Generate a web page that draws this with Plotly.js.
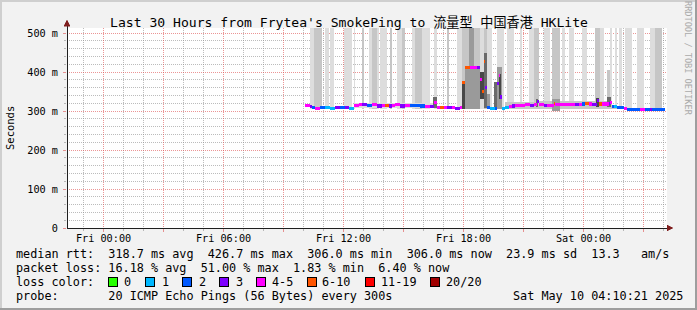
<!DOCTYPE html>
<html><head><meta charset="utf-8">
<script src="https://cdn.plot.ly/plotly-3.0.1.min.js"></script>
<style>html,body{margin:0;padding:0;background:#f2f2f2;overflow:hidden}
.main-svg path.xgrid, .main-svg path.ygrid, .main-svg path.xtick, .main-svg path.ytick,
.main-svg .barlayer path, .main-svg .layer-above path { shape-rendering: crispEdges; }
</style>
</head><body><div id="chart" style="width:697px;height:310px"></div>
<script>
// ---- data (times are minutes after Fri 2025-05-09 00:00) ----
const medStart = [605,620,625,635,650,665,680,695,710,725,735,750,765,775,790,805,820,835,845,855,865,875,890,905,920,950,965,980,990,1000,1010,1020,1030,1045,1055,1070,1075,1085,1100,1120,1130,1135,1140,1145,1150,1160,1175,1180,1185,1190,1195,1205,1215,1225,1235,1265,1280,1290,1300,1305,1320,1330,1350,1355,1415,1425,1435,1445,1455,1465,1480,1485,1495,1515,1520,1525,1530,1540,1560,1570,1610,1625,1640,1645];
const medValue = [315,311,309,307,309,308,307,309,308,308,307,315,316,316,314,316,313,315,315,313,315,316,313,314,314,313,312,312,322,310,308,309,308,308,307,308,374,412,412,412,380,351,427,360,308,306,307,371,392,336,306,308,312,313,314,316,315,316,325,316,315,314,320,316,316,317,318,320,318,317,328,318,318,320,322,312,311,309,306,305,305,305,305,305];
const medLoss  = [4,3,2,4,2,1,1,3,2,3,1,4,4,3,2,4,3,4,5,3,4,4,3,4,2,2,4,3,4,4,5,4,3,4,3,4,5,5,4,3,4,5,5,3,2,1,2,3,4,3,1,1,4,3,4,4,3,4,3,4,3,4,5,4,3,4,2,5,4,3,3,5,4,3,4,2,1,2,4,2,4,2,3,2];
const medEnd = 1685;

// tall smoke bands (pings spread up past the top of the graph)
const outerStart = [620,630,665,680,720,750,775,795,805,820,830,860,880,895,925,935,955,990,1030,1060,1075,1130,1140,1150,1180,1210,1250,1275,1290,1320,1345,1375,1395,1435,1475,1490,1510,1520,1535,1545,1565,1570,1600,1640,1655];
const outerEnd   = [630,655,675,690,745,755,780,805,820,825,850,865,895,905,935,955,980,1000,1035,1075,1130,1140,1150,1165,1200,1230,1255,1290,1305,1340,1370,1385,1410,1450,1490,1500,1520,1525,1540,1555,1570,1585,1620,1655,1675];
const outerHi    = [520,520,520,520,520,520,520,520,520,520,520,520,520,520,520,520,520,520,520,520,520,520,520,520,520,520,520,520,520,520,520,520,520,520,520,520,405,520,520,520,520,520,520,520,520];
const outerLevel = [1,2,1,1,1,1,2,1,2,1,1,2,1,2,1,2,1,1,2,1,2,1,2,1,1,1,1,1,2,1,2,1,1,1,2,1,2,1,1,1,1,1,1,1,2];
const outerLo = 305;

// dense smoke around the median
const innerStart = [750,988,1075,1085,1095,1130,1140,1150,1170,1180,1185,1205,1298,1305,1345,1478,1510,1525];
const innerEnd   = [990,1000,1085,1130,1110,1140,1150,1160,1180,1195,1192,1305,1303,1525,1370,1485,1522,1560];
const innerLo    = [308,308,306,306,412,330,308,306,306,306,330,306,310,304,300,310,310,304];
const innerHi    = [320,335,378,412,520,400,448,345,374,412,395,322,332,326,332,334,336,314];
const innerLevel = [1,4,5,3,3,5,4,3,4,3,5,2,4,2,3,5,4,2];

const lossLabels = ['0','1','2','3','4-5','6-10','11-19','20/20'];
const xTickLabels = ['Fri 00:00','','Fri 06:00','','Fri 12:00','','Fri 18:00','','Sat 00:00',''];
const xTickMinutes = [0,180,360,540,720,900,1080,1260,1440,1620];
const yTickValues = [0,100,200,300,400,500];
const yTickLabels = ['0','100 m','200 m','300 m','400 m','500 m'];
const legendLines = [
  'median rtt:  318.7 ms avg  426.7 ms max  306.0 ms min  306.0 ms now  23.9 ms sd  13.3   am/s',
  'packet loss: 16.18 % avg  51.00 % max  1.83 % min  6.40 % now',
  'loss color:',
  'probe:       20 ICMP Echo Pings (56 Bytes) every 300s'
];
const stampText = 'Sat May 10 04:10:21 2025';
const titleText = "Last 30 Hours from Frytea's SmokePing to 流量型 中国香港 HKLite";

// ---- styles ----
const lossColors = ['#26ff00','#00b8ff','#0059ff','#7e00ff','#ff00ff','#ff5500','#ff0000','#a10000'];
const levelColors = {1:'#dddddd',2:'#c6c6c6',3:'#9a9a9a',4:'#6a6a6a',5:'#474747'};
const MONO = 'DejaVu Sans Mono, Noto Sans CJK SC, monospace';

const T0 = Date.UTC(2025,4,9,0,0,0);
function tstr(min){ return new Date(T0+min*60000).toISOString().replace('T',' ').slice(0,19); }
function mid(a,b){ return tstr((a+b)/2); }

const traces = [];
traces.push({type:'bar', x: outerStart.map((s,i)=>mid(s,outerEnd[i])), width: outerStart.map((s,i)=>(outerEnd[i]-s)*60000),
  base: outerStart.map(()=>outerLo), y: outerHi.map(h=>h-outerLo),
  marker:{color: outerLevel.map(l=>levelColors[l]), line:{width:0}}, hoverinfo:'skip'});
traces.push({type:'bar', x: innerStart.map((s,i)=>mid(s,innerEnd[i])), width: innerStart.map((s,i)=>(innerEnd[i]-s)*60000),
  base: innerLo, y: innerHi.map((h,i)=>h-innerLo[i]),
  marker:{color: innerLevel.map(l=>levelColors[l]), line:{width:0}}, hoverinfo:'skip'});
const medE = medStart.slice(1).concat([medEnd]);
traces.push({type:'bar', x: medStart.map((s,i)=>mid(s,medE[i])), width: medStart.map((s,i)=>(medE[i]-s)*60000),
  base: medValue.map(v=>v-4), y: medValue.map(()=>8),
  marker:{color: medLoss.map(k=>lossColors[k]), line:{width:0}}, hoverinfo:'skip'});

// pixel helpers for layout decorations (plot area 67..667 x, 28..228 y)
const PX = px => (px-67)/600, PY = py => (228-py)/200;
const annotations = [];
function ann(text, px, py, size, extra){
  annotations.push(Object.assign({text: text.replace(/ /g,'\u00a0'), xref:'paper', yref:'paper', x:PX(px), y:PY(py),
    xanchor:'left', yanchor:'middle', showarrow:false, borderpad:0, borderwidth:0,
    font:{family:MONO, size:size, color:'#000'}}, extra||{}));
}
ann(titleText, 348.5, 22.5, 13.1, {xanchor:'center'});
ann('Seconds', 10, 128, 10.5, {xanchor:'center', textangle:-90});
ann('RRDTOOL / TOBI OETIKER', 688, 58, 8.6, {xanchor:'center', textangle:90, font:{family:MONO,size:8.6,color:'#aaaaaa'}});
const lineY = [254.3, 268.3, 282.3, 296];
legendLines.forEach((t,i)=>ann(t, 16, lineY[i], 11.8));
ann(stampText, 513, lineY[3], 11.8);

const shapes = [];
const boxX = [108,145.7,182.7,219.5,256.7,307,365.7,430.7];
const labX = [123.5,161.5,198.5,236.5,271.5,321.5,380.5,445.5];
lossLabels.forEach((l,i)=>{
  shapes.push({type:'rect', xref:'paper', yref:'paper', x0:PX(boxX[i]), x1:PX(boxX[i]+9), y0:PY(277), y1:PY(286.5),
    fillcolor: lossColors[i], line:{color:'#000', width:1}});
  ann(l, labX[i], lineY[2], 11.8);
});
// axis extensions and arrows
shapes.push({type:'line', xref:'paper', yref:'paper', x0:0, x1:PX(668), y0:0, y1:0, line:{color:'#1f1f1f', width:1}});
shapes.push({type:'line', xref:'paper', yref:'paper', x0:0, x1:0, y0:0, y1:PY(24), line:{color:'#1f1f1f', width:1}});
shapes.push({type:'path', xref:'paper', yref:'paper', xsizemode:'pixel', ysizemode:'pixel', xanchor:PX(667), yanchor:0,
  path:'M 0 -3 L 6 0 L 0 3 Z', fillcolor:'#801f1f', line:{color:'#801f1f', width:0.5}});
shapes.push({type:'path', xref:'paper', yref:'paper', xsizemode:'pixel', ysizemode:'pixel', xanchor:0, yanchor:PY(26),
  path:'M -3 0 L 0 6 L 3 0 Z', fillcolor:'#801f1f', line:{color:'#801f1f', width:0.5}});
// 3D frame
shapes.push({type:'rect', xref:'paper', yref:'paper', x0:PX(0), x1:PX(697), y0:PY(0), y1:PY(2), fillcolor:'#cfcfcf', line:{width:0}});
shapes.push({type:'rect', xref:'paper', yref:'paper', x0:PX(0), x1:PX(2), y0:PY(0), y1:PY(310), fillcolor:'#cfcfcf', line:{width:0}});
shapes.push({type:'rect', xref:'paper', yref:'paper', x0:PX(0), x1:PX(697), y0:PY(308), y1:PY(310), fillcolor:'#9e9e9e', line:{width:0}});
shapes.push({type:'rect', xref:'paper', yref:'paper', x0:PX(695), x1:PX(697), y0:PY(0), y1:PY(310), fillcolor:'#9e9e9e', line:{width:0}});

// minor grid positions: every hour / every 20 ms
const hourMinutes = []; for (let m=-60; m<=1740; m+=60) if (m%180!==0) hourMinutes.push(m);
const y20 = []; for (let v=20; v<=500; v+=20) if (v%100!==0) y20.push(v);

const GRID = 'rgba(143,143,143,0.6)', MGRID = 'rgba(222,79,79,0.6)';
const layout = {
  width:697, height:310, margin:{l:67, r:30, t:28, b:82},
  paper_bgcolor:'#f2f2f2', plot_bgcolor:'#ffffff', showlegend:false, barmode:'overlay',
  xaxis:{type:'date', range:[tstr(-109.65), tstr(1690.35)], tickmode:'array',
    tickvals: xTickMinutes.map(tstr), ticktext: xTickLabels,
    showgrid:true, gridcolor:MGRID, griddash:'1px,1px', gridwidth:1,
    ticks:'outside', ticklen:3, tickcolor:MGRID, ticklabelstandoff:-2,
    minor:{tickmode:'array', tickvals: hourMinutes.map(tstr), showgrid:true, gridcolor:GRID, griddash:'1px,1px', ticks:'outside', ticklen:2, tickcolor:GRID},
    showline:false, zeroline:false, fixedrange:true,
    tickfont:{family:MONO, size:10.2, color:'#000'}},
  yaxis:{range:[0,513], tickmode:'array', tickvals:yTickValues, ticktext:yTickLabels,
    showgrid:true, gridcolor:MGRID, griddash:'1px,1px', gridwidth:1,
    ticks:'outside', ticklen:3, tickcolor:MGRID,
    minor:{tickmode:'array', tickvals:y20, showgrid:true, gridcolor:GRID, griddash:'1px,1px', ticks:'outside', ticklen:2, tickcolor:GRID},
    showline:false, zeroline:false, fixedrange:true, ticklabelstandoff:3,
    tickfont:{family:MONO, size:10.2, color:'#000'}},
  annotations: annotations, shapes: shapes
};
Plotly.newPlot('chart', traces, layout, {staticPlot:true, displayModeBar:false});
</script></body></html>
